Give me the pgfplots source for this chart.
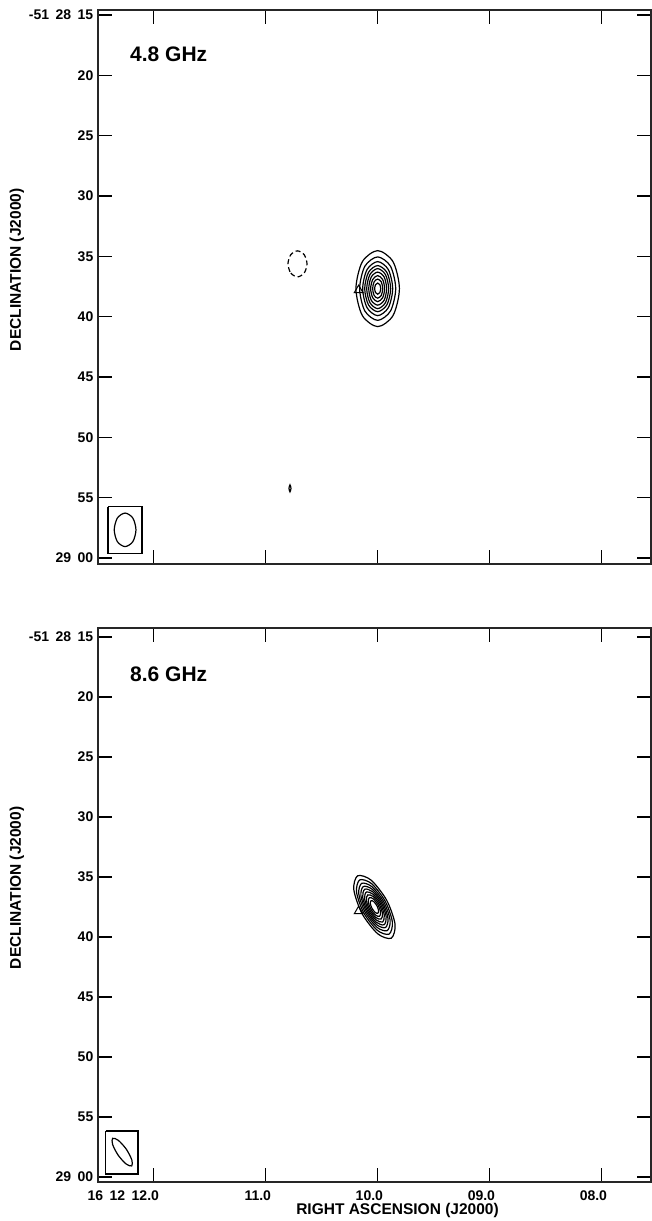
\documentclass[border=0pt]{standalone}
\usepackage{fontspec}
\setmainfont{Liberation Sans}
\usepackage{pgfplots}
\pgfplotsset{compat=1.18}
\begin{document}
\begin{tikzpicture}
\pgfplotsset{
  mapaxis/.style={
    scale only axis, width=553pt, height=554pt,
    xmin=7.56, xmax=12.497, x dir=reverse, y dir=reverse,
    xtick={8,9,10,11,12}, ytick={15,20,...,60},
    yticklabels={-51\hspace{6.5pt}28\hspace{6.5pt}15,20,25,30,35,40,45,50,55,29\hspace{6.5pt}00},
    tick align=inside, tick pos=both, major tick length=14pt,
    xticklabel pos=bottom, yticklabel pos=left,
    axis line style={line width=1.6pt, black!85},
    major tick style={line width=1.2pt, black},
    tick label style={font=\fontsize{14}{16}\selectfont\bfseries},
    yticklabel style={anchor=east, inner sep=0pt, xshift=-4.5pt},
    xticklabel style={anchor=north east, inner sep=0pt, xshift=5.5pt, yshift=-8.5pt},
    label style={font=\fontsize{15.5}{18}\selectfont\bfseries, inner sep=0pt},
    ylabel={DECLINATION (J2000)},
    ylabel style={at={([xshift=-77pt]axis description cs:0,0.531)}, anchor=base},
  },
  ctr/.style={black, line width=1.2pt, smooth cycle, no markers},
  box/.style={black, line width=1.1pt, sharp plot, no markers},
}
% ---------------- top panel: 4.8 GHz ----------------
\begin{axis}[mapaxis, at={(98pt,657pt)}, anchor=south west,
  ymin=14.59, ymax=60.50, xticklabels={}]
\addplot[ctr] coordinates {(10.194,37.68) (10.137,39.91) (10.00,40.83) (9.863,39.91) (9.806,37.68) (9.863,35.45) (10.00,34.53) (10.137,35.45)};
\addplot[ctr] coordinates {(10.161,37.68) (10.114,39.54) (10.00,40.31) (9.886,39.54) (9.839,37.68) (9.886,35.82) (10.00,35.05) (10.114,35.82)};
\addplot[ctr] coordinates {(10.134,37.68) (10.095,39.26) (10.00,39.92) (9.905,39.26) (9.866,37.68) (9.905,36.10) (10.00,35.44) (10.095,36.10)};
\addplot[ctr] coordinates {(10.116,37.68) (10.082,39.03) (10.00,39.59) (9.918,39.03) (9.884,37.68) (9.918,36.33) (10.00,35.77) (10.082,36.33)};
\addplot[ctr] coordinates {(10.098,37.68) (10.069,38.85) (10.00,39.34) (9.931,38.85) (9.902,37.68) (9.931,36.51) (10.00,36.02) (10.069,36.51)};
\addplot[ctr] coordinates {(10.080,37.68) (10.057,38.65) (10.00,39.05) (9.943,38.65) (9.920,37.68) (9.943,36.71) (10.00,36.31) (10.057,36.71)};
\addplot[ctr] coordinates {(10.063,37.68) (10.044,38.44) (10.00,38.76) (9.956,38.44) (9.938,37.68) (9.956,36.92) (10.00,36.60) (10.044,36.92)};
\addplot[ctr] coordinates {(10.045,37.68) (10.032,38.24) (10.00,38.47) (9.968,38.24) (9.955,37.68) (9.968,37.12) (10.00,36.89) (10.032,37.12)};
\addplot[ctr] coordinates {(10.027,37.68) (10.019,38.01) (10.00,38.14) (9.981,38.01) (9.973,37.68) (9.981,37.35) (10.00,37.22) (10.019,37.35)};
% negative (dashed) contour
\addplot[ctr, dash pattern=on 5pt off 3pt] coordinates {(10.801,35.63) (10.776,36.39) (10.716,36.71) (10.656,36.39) (10.631,35.63) (10.656,34.87) (10.716,34.55) (10.776,34.87)};
% tiny contour
\addplot[ctr] coordinates {(10.792,54.23) (10.783,54.52) (10.774,54.23) (10.783,53.94)};
% position marker
\addplot[only marks, mark=triangle, mark size=5pt, mark options={line width=1pt, black}] coordinates {(10.17,37.80)};
% beam
\addplot[box] coordinates {(12.408,55.76) (12.104,55.76) (12.104,59.66) (12.408,59.66) (12.408,55.76)};
\addplot[ctr] coordinates {(12.352,57.67) (12.324,58.65) (12.255,59.06) (12.186,58.65) (12.158,57.67) (12.186,56.69) (12.255,56.28) (12.324,56.69)};
\node[anchor=base west, inner sep=0pt, font=\fontsize{21}{24}\selectfont\bfseries] at (axis description cs:0.0579,0.9067) {4.8 GHz};
\end{axis}
% ---------------- bottom panel: 8.6 GHz ----------------
\begin{axis}[mapaxis, at={(98pt,39pt)}, anchor=south west,
  ymin=14.25, ymax=60.42,
  xticklabels={08.0,09.0,10.0,11.0,16\hspace{6.5pt}12\hspace{6.5pt}12.0},
  xlabel={RIGHT ASCENSION (J2000)},
  xlabel style={at={(axis description cs:0.5416,0)}, anchor=base, yshift=-32pt}]
\addplot[ctr] coordinates {(9.879,40.10) (9.845,38.94) (9.919,36.95) (10.058,35.27) (10.179,34.90) (10.213,36.06) (10.139,38.06) (10.000,39.73)};
\addplot[ctr] coordinates {(9.898,39.76) (9.869,38.75) (9.933,37.02) (10.054,35.56) (10.160,35.24) (10.189,36.25) (10.125,37.98) (10.004,39.44)};
\addplot[ctr] coordinates {(9.915,39.47) (9.889,38.60) (9.945,37.08) (10.051,35.81) (10.143,35.53) (10.169,36.40) (10.113,37.92) (10.007,39.19)};
\addplot[ctr] coordinates {(9.930,39.21) (9.908,38.45) (9.956,37.13) (10.048,36.03) (10.128,35.79) (10.150,36.55) (10.102,37.87) (10.010,38.97)};
\addplot[ctr] coordinates {(9.943,38.98) (9.924,38.32) (9.966,37.18) (10.045,36.23) (10.115,36.02) (10.134,36.68) (10.092,37.82) (10.013,38.77)};
\addplot[ctr] coordinates {(9.957,38.75) (9.941,38.19) (9.976,37.23) (10.043,36.43) (10.101,36.25) (10.117,36.81) (10.082,37.77) (10.015,38.57)};
\addplot[ctr] coordinates {(9.970,38.51) (9.957,38.06) (9.986,37.28) (10.040,36.63) (10.088,36.49) (10.101,36.94) (10.072,37.72) (10.018,38.37)};
\addplot[ctr] coordinates {(9.984,38.28) (9.974,37.93) (9.996,37.33) (10.038,36.83) (10.074,36.72) (10.084,37.07) (10.062,37.67) (10.020,38.17)};
\addplot[ctr] coordinates {(9.999,38.02) (9.992,37.79) (10.007,37.39) (10.035,37.05) (10.059,36.98) (10.066,37.21) (10.051,37.61) (10.023,37.95)};
\addplot[only marks, mark=triangle, mark size=5pt, mark options={line width=1pt, black}] coordinates {(10.17,37.85)};
% beam
\addplot[box] coordinates {(12.426,56.17) (12.140,56.17) (12.140,59.75) (12.426,59.75) (12.426,56.17)};
\addplot[ctr] coordinates {(12.196,59.08) (12.195,58.58) (12.244,57.69) (12.315,56.95) (12.366,56.78) (12.367,57.28) (12.318,58.17) (12.247,58.91)};
\node[anchor=base west, inner sep=0pt, font=\fontsize{21}{24}\selectfont\bfseries] at (axis description cs:0.0579,0.903) {8.6 GHz};
\end{axis}
\pgfresetboundingbox
\path (0,0) rectangle (652pt,1221pt);
\end{tikzpicture}
\end{document}
